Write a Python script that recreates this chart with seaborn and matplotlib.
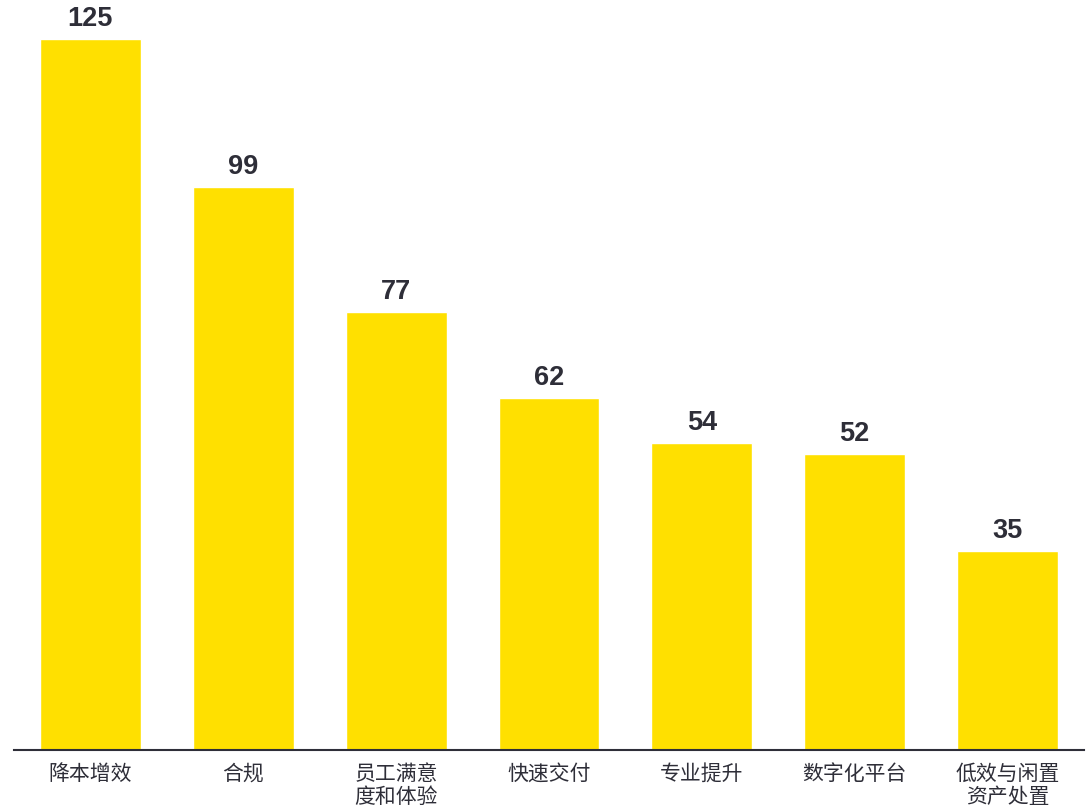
import matplotlib
matplotlib.use("Agg")
import matplotlib.pyplot as plt
import seaborn as sns
import pandas as pd

categories = ["降本增效", "合规", "员工满意\n度和体验", "快速交付", "专业提升", "数字化平台", "低效与闲置\n资产处置"]
values = [125, 99, 77, 62, 54, 52, 35]

sns.set_theme(style="white")
plt.rcParams['font.family'] = ['Noto Sans CJK SC', 'DejaVu Sans']

df = pd.DataFrame({"cat": categories, "val": values})

fig = plt.figure(figsize=(10.89, 8.08), dpi=100)
ax = fig.add_axes([14/1089, 58/808, 1070/1089, 730/808])
sns.barplot(data=df, x="cat", y="val", color="#FFE000", saturation=1, width=0.66, ax=ax)

ax.set_xlim(-0.5, len(categories) - 0.5)
ax.set_ylim(0, 128.4)
ax.set_xlabel("")
ax.set_ylabel("")
ax.set_yticks([])
for s in ["top", "right", "left"]:
    ax.spines[s].set_visible(False)
ax.spines["bottom"].set_color("#2E2E38")
ax.spines["bottom"].set_linewidth(1.5)
ax.tick_params(axis="x", length=0, pad=9, labelsize=15, colors="#2E2E38")
for lab in ax.get_xticklabels():
    lab.set_linespacing(1.1)

for i, v in enumerate(values):
    ax.annotate(str(v), (i, v), xytext=(0, 5), textcoords="offset points",
                ha="center", va="bottom", fontsize=19.5, fontweight="bold",
                color="#2E2E38", family=["Liberation Sans", "DejaVu Sans"], clip_on=False)

fig.savefig("out.png", dpi=100)
